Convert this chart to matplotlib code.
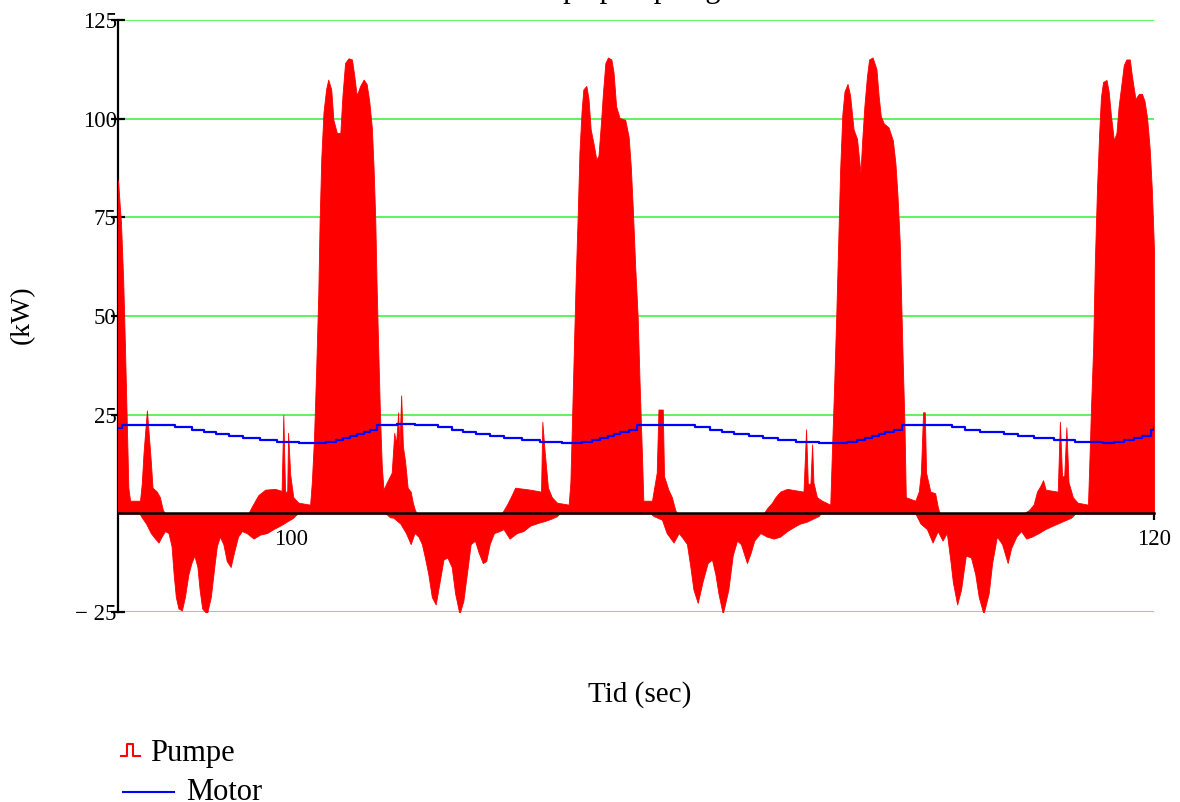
import matplotlib
matplotlib.use("Agg")
import matplotlib.pyplot as plt
from matplotlib.lines import Line2D

plt.rcParams['font.family'] = ['Liberation Serif', 'DejaVu Serif']

# ---------------- data ----------------
# Pumpe: upper (positive) envelope of the dense trace
pump_up_t = [96.0, 96.07, 96.12, 96.16, 96.20, 96.24, 96.28, 96.51, 96.55, 96.59, 96.63, 96.67, 96.71, 96.76,
             96.80, 96.90, 96.97, 97.04, 97.09, 99.02, 99.10, 99.25, 99.41, 99.64, 99.79, 99.83, 99.87, 99.92,
             99.94, 99.99, 100.06, 100.18, 100.45, 100.49, 100.54, 100.59, 100.64, 100.67, 100.71, 100.76,
             100.82, 100.87, 100.94, 100.99, 101.07, 101.15, 101.20, 101.26, 101.34, 101.42, 101.47, 101.53,
             101.61, 101.69, 101.76, 101.82, 101.88, 101.92, 101.96, 101.99, 102.03, 102.07, 102.11, 102.15,
             102.23, 102.34, 102.40, 102.44, 102.49, 102.52, 102.56, 102.60, 102.65, 102.71, 102.78, 102.83,
             102.88, 102.92, 104.89, 105.01, 105.12, 105.20, 105.55, 105.80, 105.83, 105.88, 105.96, 106.05,
             106.17, 106.44, 106.48, 106.51, 106.55, 106.60, 106.65, 106.69, 106.74, 106.78, 106.85, 106.90,
             106.95, 107.02, 107.08, 107.13, 107.19, 107.23, 107.29, 107.35, 107.43, 107.48, 107.54, 107.62,
             107.75, 107.83, 107.88, 107.93, 107.98, 108.04, 108.08, 108.14, 108.17, 108.37, 108.48, 108.52,
             108.62, 108.65, 108.75, 108.83, 108.91, 108.95, 110.96, 111.03, 111.15, 111.23, 111.34, 111.50,
             111.88, 111.94, 111.98, 112.04, 112.08, 112.11, 112.19, 112.31, 112.50, 112.54, 112.59, 112.64,
             112.69, 112.73, 112.78, 112.83, 112.90, 112.96, 113.04, 113.12, 113.20, 113.24, 113.29, 113.35,
             113.40, 113.48, 113.57, 113.62, 113.67, 113.74, 113.85, 113.95, 114.01, 114.06, 114.11, 114.14,
             114.18, 114.22, 114.25, 114.47, 114.55, 114.60, 114.65, 114.69, 114.72, 114.82, 114.93, 114.99,
             115.03, 116.98, 117.10, 117.21, 117.29, 117.37, 117.43, 117.49, 117.77, 117.82, 117.87, 117.92,
             117.97, 118.02, 118.12, 118.23, 118.47, 118.50, 118.54, 118.59, 118.63, 118.68, 118.73, 118.77,
             118.82, 118.90, 118.95, 119.00, 119.07, 119.13, 119.18, 119.24, 119.30, 119.36, 119.44, 119.49,
             119.57, 119.65, 119.72, 119.78, 119.84, 119.90, 119.95, 120.0]
pump_up_v = [84.4, 73.4, 59.1, 42.8, 24.7, 6.5, 3.2, 3.2, 7.5, 15.1, 20.8, 26.1, 20.4, 13.2,
             6.5, 5.5, 4.1, 0.8, 0.0, 0.0, 1.7, 4.6, 6.0, 6.2, 5.7, 24.9, 5.5, 5.5,
             20.4, 9.8, 4.1, 2.7, 2.2, 7.9, 18.9, 36.1, 55.7, 73.9, 90.2, 101.6,
             107.4, 109.9, 107.4, 99.7, 96.4, 96.4, 105.9, 114.1, 115.3, 115.0, 111.2, 105.9,
             108.3, 109.9, 108.8, 104.5, 97.8, 87.8, 74.4, 58.1, 40.9, 24.7, 12.2, 6.0,
             7.9, 10.3, 20.4, 17.5, 25.6, 17.0, 29.9, 17.0, 13.2, 6.5, 5.5, 2.7,
             0.8, 0.0, 0.0, 2.2, 4.6, 6.5, 6.0, 5.5, 23.2, 16.1, 6.5, 4.1,
             2.7, 2.2, 7.9, 20.4, 37.1, 58.1, 75.8, 91.6, 102.1, 107.4, 108.3, 105.0,
             97.3, 93.5, 89.7, 90.6, 99.2, 105.9, 114.1, 115.5, 115.0, 111.7, 103.1, 100.2,
             99.7, 95.4, 87.8, 76.3, 62.9, 49.5, 34.2, 14.1, 3.2, 3.2, 10.3, 26.3,
             26.3, 9.4, 6.0, 4.1, 0.8, 0.0, 0.0, 1.2, 2.7, 4.1, 5.5, 6.2,
             5.5, 21.3, 7.5, 7.5, 17.5, 7.9, 4.1, 3.2, 2.2, 16.1, 32.3, 50.5,
             71.0, 87.3, 101.1, 106.9, 108.8, 105.9, 97.3, 94.9, 86.3, 94.5, 103.1, 110.7,
             115.0, 115.5, 112.6, 105.9, 100.7, 98.8, 97.8, 94.5, 88.7, 80.1, 68.6, 55.3,
             38.0, 22.3, 4.1, 3.2, 5.5, 10.3, 25.6, 25.6, 10.3, 5.5, 5.1, 1.7,
             0.0, 0.0, 0.8, 2.2, 5.5, 7.0, 8.4, 6.0, 5.5, 23.2, 9.4, 9.4,
             21.8, 7.9, 4.1, 2.7, 2.2, 12.2, 26.6, 41.9, 63.9, 82.5, 96.4, 105.4,
             109.3, 109.8, 106.9, 101.1, 94.5, 96.4, 103.1, 108.3, 113.6, 115.0, 115.0, 110.7,
             105.0, 106.3, 106.3, 104.5, 100.2, 92.5, 82.0, 66.7]

# Pumpe: lower (negative) envelope
pump_lo_t = [96.0, 96.495, 96.55, 96.65, 96.76, 96.86, 96.94, 97.01, 97.09, 97.17, 97.24, 97.29, 97.34,
             97.40, 97.48, 97.55, 97.63, 97.70, 97.77, 97.84, 97.89, 97.95, 98.06, 98.15, 98.23, 98.29,
             98.36, 98.44, 98.52, 98.61, 98.69, 98.78, 98.87, 98.98, 99.14, 99.29, 99.45, 99.60, 99.76,
             99.91, 100.06, 100.16, 102.20, 102.30, 102.38, 102.54, 102.67, 102.78, 102.87, 102.96, 103.04,
             103.11, 103.19, 103.27, 103.36, 103.45, 103.54, 103.63, 103.73, 103.81, 103.91, 104.00, 104.08,
             104.17, 104.27, 104.35, 104.45, 104.53, 104.61, 104.71, 104.84, 104.93, 105.07, 105.24, 105.39,
             105.55, 105.74, 105.90, 106.05, 106.17, 106.23, 108.33, 108.41, 108.60, 108.71, 108.87, 108.99,
             109.09, 109.18, 109.26, 109.33, 109.43, 109.54, 109.66, 109.76, 109.84, 109.91, 110.01, 110.14,
             110.24, 110.34, 110.43, 110.57, 110.65, 110.74, 110.88, 111.03, 111.19, 111.34, 111.50, 111.65,
             111.80, 111.96, 112.11, 112.23, 112.28, 114.47, 114.59, 114.74, 114.87, 114.99, 115.10, 115.20,
             115.28, 115.34, 115.44, 115.53, 115.64, 115.76, 115.86, 115.94, 116.05, 116.17, 116.25, 116.36,
             116.48, 116.61, 116.69, 116.81, 116.92, 117.04, 117.17, 117.33, 117.48, 117.66, 117.87, 118.08,
             118.18, 120.0]
pump_lo_v = [0.0, 0.0, -1.0, -2.6, -5.0, -6.4, -7.4, -5.9, -4.5, -5.0, -8.3, -15.5, -21.2,
             -24.1, -24.6, -21.2, -15.5, -12.6, -10.7, -13.6, -19.3, -24.1, -25.5, -21.2, -13.6, -8.3,
             -5.9, -7.8, -12.1, -13.6, -9.8, -5.9, -4.5, -5.0, -6.4, -5.4, -5.0, -4.0, -3.1,
             -2.1, -1.1, 0.0, 0.0, -1.0, -1.1, -2.6, -5.0, -7.8, -5.0, -5.9, -7.8,
             -11.2, -15.5, -21.2, -23.1, -17.4, -11.7, -11.2, -13.6, -20.3, -25.5, -22.2, -15.5,
             -7.8, -6.9, -9.8, -12.6, -12.1, -7.8, -5.0, -4.5, -4.0, -6.4, -5.0, -4.5,
             -3.1, -2.4, -1.9, -1.3, -0.7, 0.0, 0.0, -0.7, -1.6, -5.0, -7.4, -5.0,
             -6.4, -7.8, -13.6, -19.3, -22.7, -17.4, -12.6, -11.7, -15.5, -20.3, -25.5, -19.3,
             -10.7, -6.9, -7.8, -12.6, -10.2, -6.9, -5.0, -5.9, -6.4, -5.9, -4.5, -3.5,
             -2.6, -2.1, -1.3, -0.7, 0.0, 0.0, -2.6, -4.0, -7.4, -4.5, -6.9, -5.0,
             -11.7, -17.4, -23.1, -19.3, -10.7, -11.2, -15.5, -21.2, -25.5, -20.3, -12.6, -5.9,
             -7.8, -12.6, -8.8, -5.9, -4.5, -6.4, -5.9, -5.0, -4.0, -3.1, -2.1, -1.1,
             0.0, 0.0]

# Motor: stepped trace (value holds until next time)
motor_t = [96.0, 96.1, 97.32, 97.71, 98.0, 98.27, 98.58, 98.90, 99.28, 99.69, 100.20,
           100.82, 101.05, 101.22, 101.38, 101.53, 101.69, 101.84, 101.99,
           102.47, 102.88, 103.42, 103.73, 104.0, 104.30, 104.62, 104.95, 105.36, 105.78, 106.28,
           106.75, 106.98, 107.17, 107.36, 107.48, 107.63, 107.83, 108.02,
           109.37, 109.72, 109.99, 110.28, 110.61, 110.94, 111.30, 111.71, 112.23,
           112.89, 113.12, 113.31, 113.47, 113.62, 113.77, 113.97, 114.16,
           115.32, 115.63, 115.98, 116.52, 116.86, 117.21, 117.68, 118.18, 118.83,
           119.07, 119.30, 119.53, 119.72, 119.92, 120.0]
motor_v = [21.5, 22.3, 21.8, 21.2, 20.65, 20.1, 19.6, 19.1, 18.6, 18.2, 17.7,
           18.1, 18.6, 19.1, 19.6, 20.1, 20.6, 21.2, 22.3,
           22.75, 22.3, 21.8, 21.2, 20.65, 20.1, 19.6, 19.1, 18.6, 18.2, 17.7,
           18.2, 18.7, 19.2, 19.7, 20.2, 20.7, 21.2, 22.3,
           21.8, 21.2, 20.65, 20.1, 19.6, 19.1, 18.6, 18.2, 17.7,
           18.2, 18.7, 19.2, 19.7, 20.2, 20.7, 21.2, 22.3,
           21.8, 21.2, 20.65, 20.1, 19.6, 19.1, 18.6, 18.2, 17.7,
           18.2, 18.7, 19.2, 19.7, 21.0, 21.8]

y_ticks = [-25, 25, 50, 75, 100, 125]
y_tick_labels = ["\u2212 25", "25", "50", "75", "100", "125"]
x_ticks = [100, 110, 120]
x_tick_labels = ["100", "", "120"]

# ---------------- figure ----------------
W, H = 1180, 802
fig = plt.figure(figsize=(W / 100, H / 100), dpi=100)

def fx(x):
    return x / W

def fy(y):
    return 1 - y / H

ax = fig.add_axes([fx(118), fy(612), (1154 - 118) / W, (612 - 20) / H])
ax.set_xlim(96, 120)
ax.set_ylim(-25, 125)

GREEN = '#44f044'
for g in [-25, 25, 50, 75, 100, 125]:
    ax.axhline(g, color=GREEN, lw=1.2, zorder=1)

ax.fill_between(pump_up_t, 0, pump_up_v, color='#ff0000', lw=0.6, edgecolor='#ff0000', zorder=3)
ax.fill_between(pump_lo_t, pump_lo_v, 0, color='#ff0000', lw=0.6, edgecolor='#ff0000', zorder=3)
ax.step(motor_t, motor_v, where='post', color='#0000ff', lw=1.6, zorder=5)

for s in ['top', 'right']:
    ax.spines[s].set_visible(False)
ax.spines['left'].set_linewidth(1.6)
ax.spines['left'].set_zorder(2.5)
ax.spines['bottom'].set_position(('data', 0))
ax.spines['bottom'].set_linewidth(1.8)
ax.spines['bottom'].set_zorder(4)

ax.set_yticks(y_ticks)
ax.set_yticklabels(y_tick_labels)
ax.set_xticks(x_ticks)
ax.set_xticklabels(x_tick_labels)
ax.tick_params(axis='y', direction='inout', length=10, width=1.6, pad=-4, labelsize=16.5)
ax.tick_params(axis='x', direction='out', length=5, width=1.6, pad=6, labelsize=16.5)

fig.text(fx(640), fy(695), "Tid (sec)", ha='center', va='center', fontsize=21)
fig.text(fx(22), fy(315), "(kW)", ha='center', va='center', rotation=90, fontsize=20)

# partially visible title (cut off at the top edge)
fig.text(fx(640), 1 + 3 / H, "Effekt på pumpe og motor", ha='center', va='baseline', fontsize=22)

# legend
fig.add_artist(Line2D([fx(121), fx(127), fx(127), fx(133), fx(133), fx(140)],
                      [fy(756), fy(756), fy(744), fy(744), fy(756), fy(756)],
                      color='#ff0000', lw=1.5, transform=fig.transFigure))
fig.text(fx(150), fy(761), "Pumpe", ha='left', va='baseline', fontsize=22)
fig.add_artist(Line2D([fx(123), fx(174)], [fy(792), fy(792)], color='#0000ff', lw=1.5,
                      transform=fig.transFigure))
fig.text(fx(186), fy(800), "Motor", ha='left', va='baseline', fontsize=22)

fig.savefig("out.png", dpi=100)
